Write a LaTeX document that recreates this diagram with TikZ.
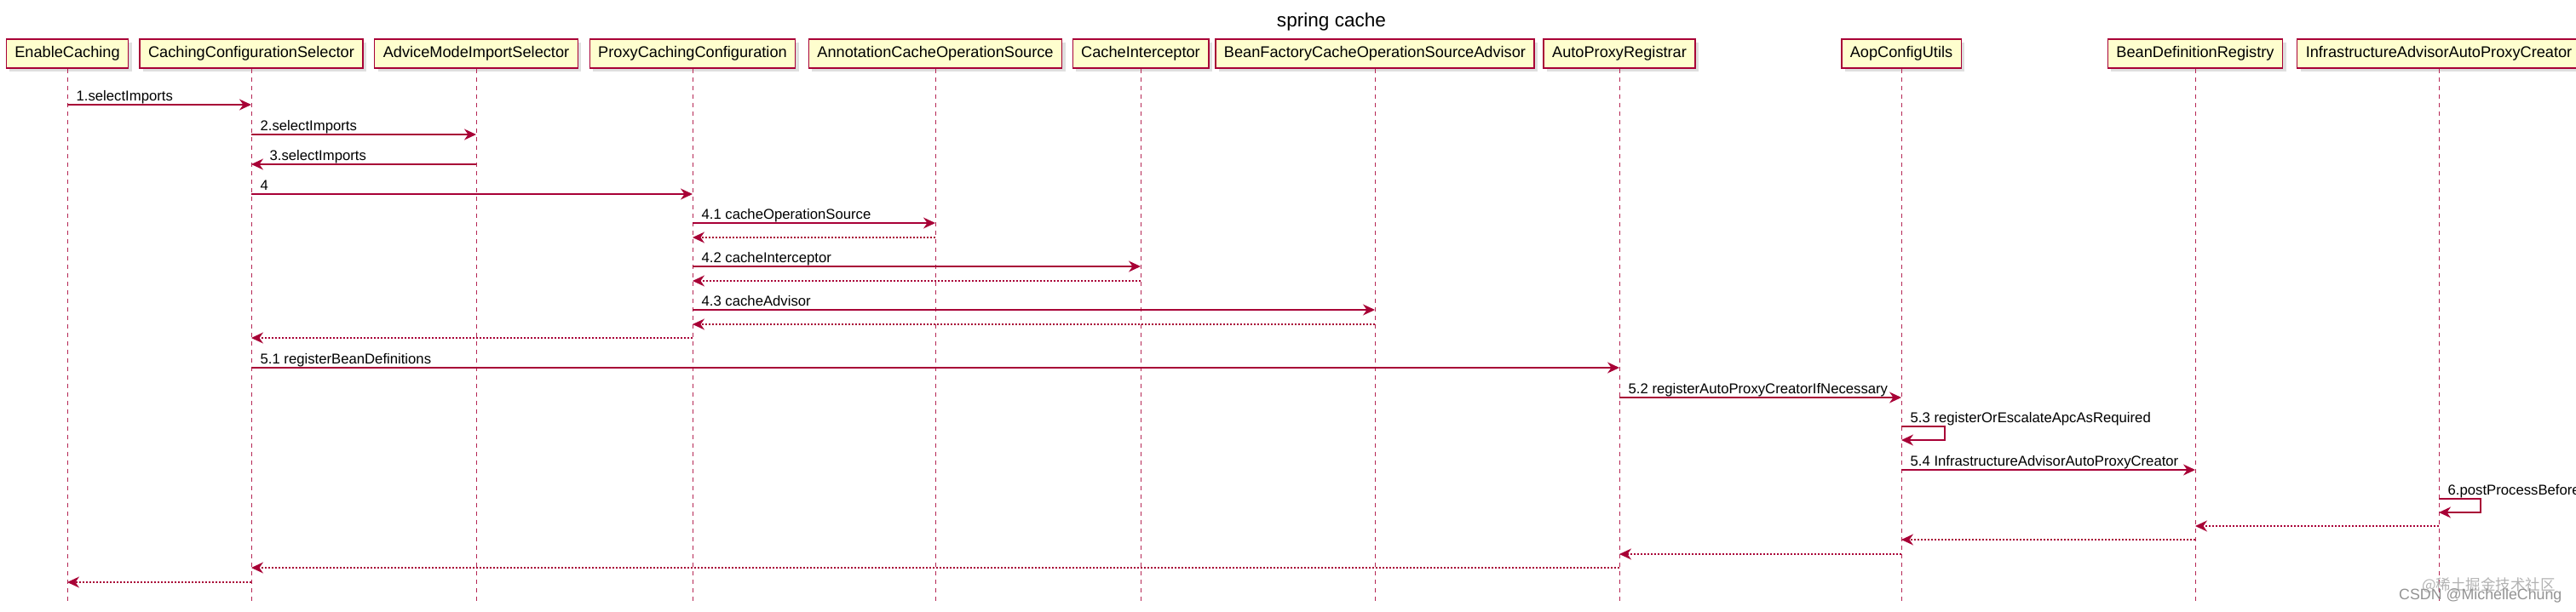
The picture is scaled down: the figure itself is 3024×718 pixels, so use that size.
\documentclass[tikz,border=0pt]{standalone}
\usepackage{fontspec}
\setmainfont{Liberation Sans}
\newfontfamily\cjkfont{Noto Sans CJK SC}
\usetikzlibrary{arrows.meta,shadows}
\definecolor{umlred}{HTML}{A80036}
\definecolor{umlfill}{HTML}{FEFECE}
\tikzset{
    actor/.style={draw=umlred, fill=umlfill, line width=1.4pt, minimum height=34pt,
        inner xsep=10pt, inner ysep=0pt, text height=13.5pt, text depth=4pt,
        font=\fontsize{18.2}{22}\selectfont,
        drop shadow={shadow xshift=4pt, shadow yshift=-4pt, opacity=0.25}},
    life/.style={umlred!85, line width=0.9pt, dash pattern=on 5pt off 5pt},
    msg/.style={umlred, line width=1.3pt, -{Stealth[length=14pt, width=13pt, inset=4.5pt]}},
    ret/.style={msg, dash pattern=on 2pt off 2pt},
    lbl/.style={anchor=base west, inner sep=0pt, text=black, font=\fontsize{16.7}{20}\selectfont}
}
\begin{document}
\begin{tikzpicture}[x=1pt, y=-1pt]
        \useasboundingbox (0,0) rectangle (3024,718);
        \node[anchor=base, font=\fontsize{22.6}{26}\selectfont] (title) at (1563,31) {spring cache};

        \node[actor] (ec) at (79,63) {EnableCaching};
        \node[actor] (ccs) at (295,63) {CachingConfigurationSelector};
        \node[actor] (amis) at (559,63) {AdviceModeImportSelector};
        \node[actor] (pcc) at (813,63) {ProxyCachingConfiguration};
        \node[actor] (acos) at (1098,63) {AnnotationCacheOperationSource};
        \node[actor] (ci) at (1339,63) {CacheInterceptor};
        \node[actor] (bfcosa) at (1614,63) {BeanFactoryCacheOperationSourceAdvisor};
        \node[actor] (apr) at (1901,63) {AutoProxyRegistrar};
        \node[actor] (acu) at (2232,63) {AopConfigUtils};
        \node[actor] (bdr) at (2577,63) {BeanDefinitionRegistry};
        \node[actor] (iaapc) at (2863,63) {InfrastructureAdvisorAutoProxyCreator};

        \foreach \p in {ec,ccs,amis,pcc,acos,ci,bfcosa,apr,acu,bdr,iaapc}
            \draw[life] (\p.south) -- (\p |- 0,706);

        \draw[msg] (ec |- 0,123) -- node[lbl, pos=0, xshift=10pt, yshift=5pt] {1.selectImports} (ccs |- 0,123);
        \draw[msg] (ccs |- 0,158) -- node[lbl, pos=0, xshift=10pt, yshift=5pt] {2.selectImports} (amis |- 0,158);
        \draw[msg] (amis |- 0,193) -- node[lbl, pos=1, xshift=21pt, yshift=5pt] {3.selectImports} (ccs |- 0,193);
        \draw[msg] (ccs |- 0,228) -- node[lbl, pos=0, xshift=10pt, yshift=5pt] {4} (pcc |- 0,228);
        \draw[msg] (pcc |- 0,262) -- node[lbl, pos=0, xshift=10pt, yshift=5pt] {4.1 cacheOperationSource} (acos |- 0,262);
        \draw[ret] (acos |- 0,279) -- (pcc |- 0,279);
        \draw[msg] (pcc |- 0,313) -- node[lbl, pos=0, xshift=10pt, yshift=5pt] {4.2 cacheInterceptor} (ci |- 0,313);
        \draw[ret] (ci |- 0,330) -- (pcc |- 0,330);
        \draw[msg] (pcc |- 0,364) -- node[lbl, pos=0, xshift=10pt, yshift=5pt] {4.3 cacheAdvisor} (bfcosa |- 0,364);
        \draw[ret] (bfcosa |- 0,381) -- (pcc |- 0,381);
        \draw[ret] (pcc |- 0,397) -- (ccs |- 0,397);
        \draw[msg] (ccs |- 0,432) -- node[lbl, pos=0, xshift=10pt, yshift=5pt] {5.1 registerBeanDefinitions} (apr |- 0,432);
        \draw[msg] (apr |- 0,467) -- node[lbl, pos=0, xshift=10pt, yshift=5pt] {5.2 registerAutoProxyCreatorIfNecessary} (acu |- 0,467);
        \draw[msg] (acu |- 0,501) -- node[lbl, pos=0, xshift=10pt, yshift=5pt] {5.3 registerOrEscalateApcAsRequired} ++(51,0) -- ++(0,16) -- (acu |- 0,517);
        \draw[msg] (acu |- 0,552) -- node[lbl, pos=0, xshift=10pt, yshift=5pt] {5.4 InfrastructureAdvisorAutoProxyCreator} (bdr |- 0,552);
        \draw[msg] (iaapc |- 0,586) -- node[lbl, pos=0, xshift=10pt, yshift=5pt] {6.postProcessBeforeInstantiation} ++(49,0) -- ++(0,16) -- (iaapc |- 0,602);
        \draw[ret] (iaapc |- 0,618) -- (bdr |- 0,618);
        \draw[ret] (bdr |- 0,634) -- (acu |- 0,634);
        \draw[ret] (acu |- 0,651) -- (apr |- 0,651);
        \draw[ret] (apr |- 0,667) -- (ccs |- 0,667);
        \draw[ret] (ccs |- 0,684) -- (ec |- 0,684);

        \node[anchor=base west, inner sep=0pt, text=gray!60, font=\cjkfont\fontsize{17.5}{20}\selectfont] (wmcn) at (2843,693) {@稀土掘金技术社区};
        \node[anchor=base west, inner sep=0pt, text=gray!85, font=\fontsize{17.8}{20}\selectfont] (wm) at (2816,704) {CSDN @MichelleChung};
\end{tikzpicture}
\end{document}
